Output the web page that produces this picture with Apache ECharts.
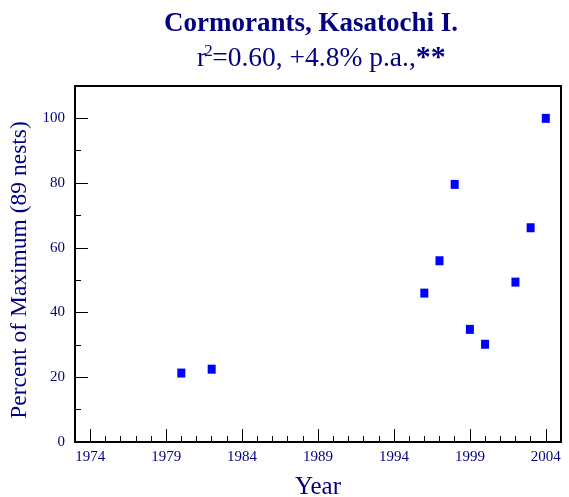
<!DOCTYPE html>
<html>
<head>
<meta charset="utf-8">
<script src="https://cdn.jsdelivr.net/npm/echarts@6/dist/echarts.min.js"></script>
<style>
  html, body { margin: 0; padding: 0; background: #fff; }
  #chart { width: 569px; height: 497px; }
</style>
</head>
<body>
<div id="chart"></div>
<script>
// nest counts as percent of the maximum (89 nests)
const years = [1980, 1982, 1996, 1997, 1998, 1999, 2000, 2002, 2003, 2004];
const percent = [21.3, 22.5, 46.0, 56.0, 79.6, 34.8, 30.2, 49.4, 66.2, 100];

// tick positions
const xMajor = [1974, 1979, 1984, 1989, 1994, 1999, 2004];
const xMinor = [];
for (let y = 1974; y <= 2004; y++) xMinor.push(y);
const yMajor = [0, 20, 40, 60, 80, 100];
const yMinor = [10, 30, 50, 70, 90];

const navy = "#000080";
const serif = "Liberation Serif, Times New Roman, serif";

const chart = echarts.init(document.getElementById("chart"));

const grid = {
  left: 75, right: 8, top: 86, bottom: 55,
  outerBoundsMode: "none",
  containLabel: false,
  show: true, borderColor: "#000", borderWidth: 2, backgroundColor: "#fff"
};

const option = {
  animation: false,
  backgroundColor: "#fff",
  title: [
    {
      text: "Cormorants, Kasatochi I.",
      left: 306, top: 6, textAlign: "center",
      textStyle: { fontFamily: serif, fontSize: 27, fontWeight: "bold", color: navy }
    },
    {
      text: "{r|r}{s|2}{n|=0.60, +4.8% p.a.,}{b|**}",
      left: 192, top: 38,
      textStyle: {
        fontWeight: "normal",
        rich: {
          r: { fontFamily: serif, fontSize: 27.5, fontWeight: "normal", color: navy, verticalAlign: "bottom" },
          s: { fontFamily: serif, fontSize: 17, fontWeight: "normal", color: navy, verticalAlign: "top", width: 8, padding: [0, 0, 0, -2] },
          n: { fontFamily: serif, fontSize: 27.5, fontWeight: "normal", color: navy, verticalAlign: "bottom" },
          b: { fontFamily: serif, fontSize: 30, fontWeight: "bold", color: navy, verticalAlign: "top" }
        }
      }
    }
  ],
  grid: grid,
  xAxis: [
    {
      type: "value", min: 1973, max: 2005,
      name: "Year", nameLocation: "middle", nameGap: 33,
      nameTextStyle: { fontFamily: serif, fontSize: 25, color: navy },
      axisLine: { lineStyle: { color: "#000", width: 2 } },
      axisTick: { inside: true, length: 13, customValues: xMajor, lineStyle: { color: "#000" } },
      axisLabel: {
        customValues: xMajor, fontFamily: serif, fontSize: 15, color: navy, margin: 8,
        formatter: (v) => String(v)
      },
      splitLine: { show: false }
    },
    {
      type: "value", min: 1973, max: 2005, position: "bottom",
      axisLine: { show: false },
      axisTick: { inside: true, length: 6, customValues: xMinor, lineStyle: { color: "#000" } },
      axisLabel: { show: false },
      splitLine: { show: false }
    }
  ],
  yAxis: [
    {
      type: "value", min: 0, max: 110,
      name: "Percent of Maximum (89 nests)", nameLocation: "middle", nameGap: 42,
      nameTextStyle: { fontFamily: serif, fontSize: 23.5, color: navy, padding: [0, 12, 0, 0] },
      axisLine: { lineStyle: { color: "#000", width: 2 } },
      axisTick: { inside: true, length: 13, customValues: yMajor, lineStyle: { color: "#000" } },
      axisLabel: { customValues: yMajor, fontFamily: serif, fontSize: 15, color: navy, margin: 10 },
      splitLine: { show: false }
    },
    {
      type: "value", min: 0, max: 110, position: "left",
      axisLine: { show: false },
      axisTick: { inside: true, length: 6, customValues: yMinor, lineStyle: { color: "#000" } },
      axisLabel: { show: false },
      splitLine: { show: false }
    }
  ],
  series: [
    {
      type: "scatter",
      symbol: "rect",
      symbolSize: [8, 9],
      itemStyle: { color: "#0000ff", opacity: 1 },
      data: years.map((y, i) => [y, percent[i]])
    }
  ]
};

chart.setOption(option);
</script>
</body>
</html>
